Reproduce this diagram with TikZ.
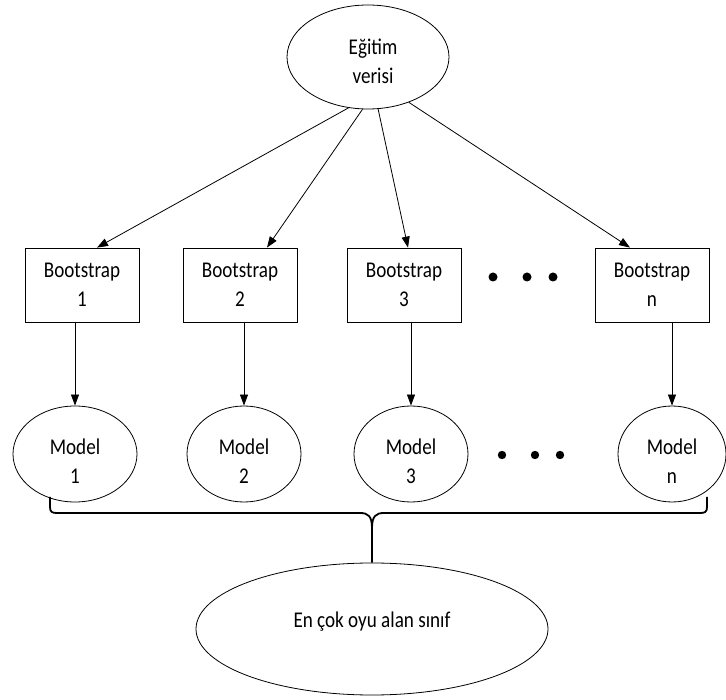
\documentclass[tikz,border=0pt]{standalone}
\usepackage{fontspec}
\setmainfont{Carlito}[FakeStretch=0.85]
\usetikzlibrary{shapes.geometric,arrows.meta,calc}
\begin{document}
\begin{tikzpicture}[x=1pt,y=-1pt,
  txt/.style={font=\fontsize{22.5}{29}\selectfont, align=center},
  oval/.style={draw, ellipse, line width=0.8pt, inner sep=0pt},
  modeloval/.style={oval, minimum height=96pt, label={[txt,yshift=-7pt]center:{Model\\#1}}},
  bbox/.style={draw, rectangle, line width=0.8pt, minimum width=114pt, minimum height=74pt, inner sep=0pt, txt},
  arr/.style={-{Triangle[length=11pt,width=8pt]}, line width=0.8pt},
  bracepath/.style={line width=1.8pt, line join=round}
]
\useasboundingbox (0,0) rectangle (726,700);

% top
\node[oval, minimum width=162pt, minimum height=104pt,
      label={[txt,xshift=5pt,yshift=-4pt]center:{Eğitim\\verisi}}] (top) at (368,57) {};

% bootstrap boxes
\node[bbox] (b1) at (82,285) {Bootstrap\\1};
\node[bbox] (b2) at (240,285) {Bootstrap\\2};
\node[bbox] (b3) at (404,285) {Bootstrap\\3};
\node[bbox] (bn) at (652,285) {Bootstrap\\n};

% dots row 1
\fill (493,277) circle (4.5pt);
\fill (527,277) circle (4.5pt);
\fill (553,277) circle (4.5pt);

% models
\node[modeloval=1, minimum width=124pt] (m1) at (75,454) {};
\node[modeloval=2, minimum width=114pt] (m2) at (244,454) {};
\node[modeloval=3, minimum width=114pt] (m3) at (411,454) {};
\node[modeloval=n, minimum width=108pt] (mn) at (672,454) {};

% dots row 2
\fill (502,455) circle (4.2pt);
\fill (535,455) circle (4.2pt);
\fill (560,455) circle (4.2pt);

% bottom
\node[oval, minimum width=352pt, minimum height=132pt,
      label={[txt,yshift=7pt]center:{En çok oyu alan sınıf}}] (bot) at (372,629) {};

% arrows top -> boxes
\draw[arr] (top.-111.6) -- ([xshift=15pt]b1.north);
\draw[arr] (top.-96.7) -- ([xshift=27pt]b2.north);
\draw[arr] (top.-79) -- ([xshift=4pt]b3.north);
\draw[arr] (top.-48.8) -- ([xshift=-22pt]bn.north);

% arrows boxes -> models
\draw[arr] (b1.south -| m1.north) -- (m1.north);
\draw[arr] (b2.south -| m2.north) -- (m2.north);
\draw[arr] (b3.south -| m3.north) -- (m3.north);
\draw[arr] (bn.south -| mn.north) -- (mn.north);

% brace
\coordinate (bl) at (50,497);
\coordinate (br) at (707,497);
\draw[bracepath] (bl) -- (50,507) .. controls (50,512) and (52,513) .. (57,513)
  -- (360,513) .. controls (368,513) and (372,516) .. (372,528) -- (bot.north);
\draw[bracepath] (br) -- (707,507) .. controls (707,512) and (705,513) .. (700,513)
  -- (384,513) .. controls (376,513) and (372,516) .. (372,528);
\end{tikzpicture}
\end{document}
